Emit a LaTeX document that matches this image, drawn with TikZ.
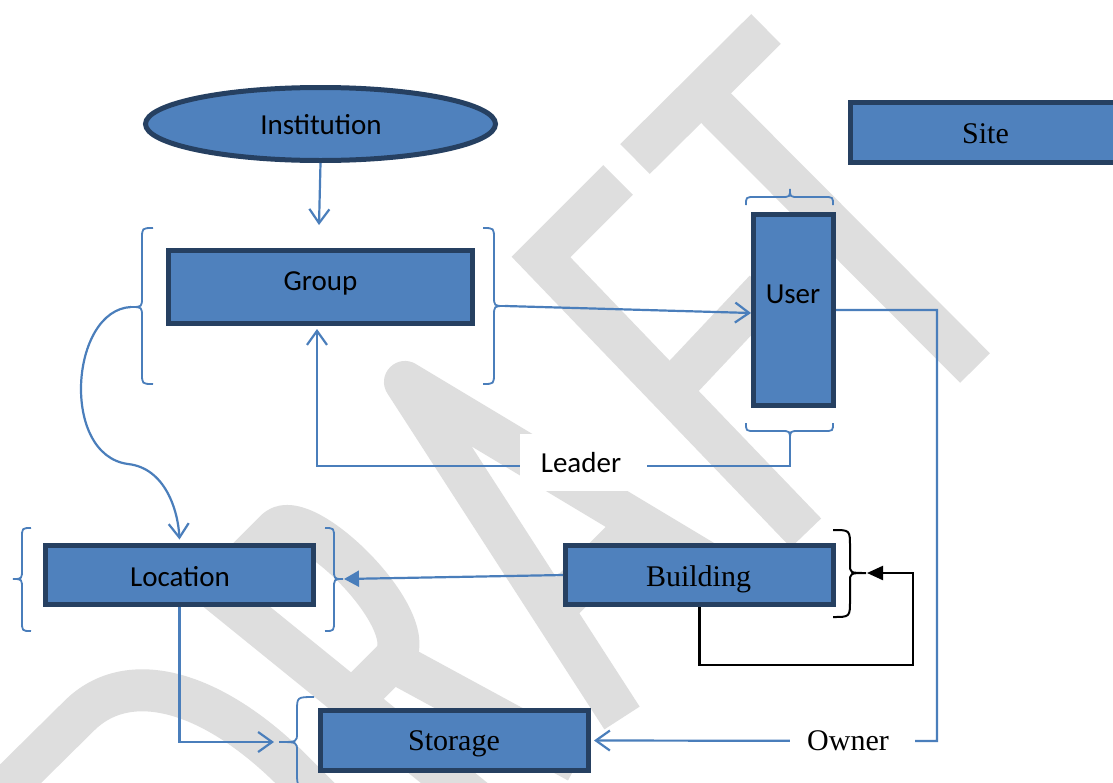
\documentclass[tikz,border=0pt]{standalone}
\usepackage{fontspec}
\setmainfont{Liberation Serif}
\newfontfamily\carl{Carlito}
\usetikzlibrary{arrows.meta,shapes.geometric}
\definecolor{boxfill}{RGB}{79,129,189}
\definecolor{boxline}{RGB}{38,64,97}
\definecolor{conn}{RGB}{74,126,187}
\definecolor{wm}{RGB}{222,222,222}
% vertical brace: style, x end, x spine, x tip, y top, y mid, y bottom, end radius, tip radius
\newcommand{\vbr}[9]{\draw[#1] (#2,#5) .. controls (#3,#5) .. (#3,{#5+#8}) -- (#3,{#6-#9}) .. controls (#3,#6) .. (#4,#6) .. controls (#3,#6) .. (#3,{#6+#9}) -- (#3,{#7-#8}) .. controls (#3,#7) .. (#2,#7);}
% horizontal brace: style, y end, y spine, y tip, x left, x mid, x right, end radius, tip radius
\newcommand{\hbr}[9]{\draw[#1] (#5,#2) .. controls (#5,#3) .. ({#5+#8},#3) -- ({#6-#9},#3) .. controls (#6,#3) .. (#6,#4) .. controls (#6,#3) .. ({#6+#9},#3) -- ({#7-#8},#3) .. controls (#7,#3) .. (#7,#2);}
\begin{document}
\begin{tikzpicture}[x=1pt,y=-1pt,
  box/.style={draw=boxline, fill=boxfill, line width=5pt, inner sep=0pt},
  sans/.style={font=\carl\fontsize{29}{35}\selectfont, anchor=base, inner sep=0pt},
  serif/.style={font=\fontsize{30}{36}\selectfont, anchor=base, inner sep=0pt},
  conn/.style={draw=conn, line width=2.2pt},
  arr/.style={-{Straight Barb[length=14pt,width=20pt]}},
  brc/.style={draw=conn, line width=1.8pt},
  bbrc/.style={draw=black, line width=2pt},
  wmk/.style={draw=wm, line width=42pt},
  lblbox/.style={fill=white, inner sep=0pt}]
\path[use as bounding box] (0,0) rectangle (1113,782);
\fill[white] (0,0) rectangle (1113,782);
% ---- watermark DRAFT ----
% T
\draw[wmk] (766,29) -- (635,159);
\draw[wmk] (702,94) -- (975,368);
% F
\draw[wmk, line join=miter] (618,180) -- (541,257) -- (806,533);
\draw[wmk] (668,393) -- (765,290);
% A
\draw[wmk, line join=round] (622,718) -- (405,382) -- (735,580);
\draw[wmk] (556,607) -- (640,522);
% R
\draw[wmk] (216,590) -- (511,829);
\draw[wmk, line join=round] (216,590) -- (276,530) .. controls (304,502) and (428,626) .. (392,661) -- (350,703);
\draw[wmk] (392,661) -- (578,762);
% D
\draw[wmk, line join=round] (1,793) -- (79,716) .. controls (129,666) and (214,691) .. (295,773) .. controls (335,813) .. (376,854);
% ---- boxes ----
\node[box, ellipse, minimum width=350pt, minimum height=73pt] (inst) at (320.5,124) {};
\node[box, minimum width=304pt, minimum height=73pt] (group) at (320.5,287) {};
\node[box, minimum width=80pt, minimum height=191pt] (user) at (793.5,310) {};
\node[box, minimum width=271pt, minimum height=60pt] (site) at (986,132.5) {};
\node[box, minimum width=268pt, minimum height=59pt] (location) at (179.5,575) {};
\node[box, minimum width=268pt, minimum height=59pt] (building) at (699.5,575) {};
\node[box, minimum width=268pt, minimum height=60pt] (storage) at (454.5,740.5) {};
% ---- box texts ----
\node[sans] (insttxt) at (321,134) {Institution};
\node[sans] (grouptxt) at (320.5,290) {Group};
\node[sans] (usertxt) at (793,303) {User};
\node[serif] (sitetxt) at (985.5,143) {Site};
\node[sans] (loctxt) at (180,586) {Location};
\node[serif] (buildtxt) at (698.5,586) {Building};
\node[serif] (stortxt) at (454,750) {Storage};
% ---- braces ----
\vbr{brc}{153}{142}{131}{228}{307}{384}{11}{10}
\vbr{brc}{483}{494}{505}{228}{306}{384}{11}{10}
\hbr{brc}{205}{197}{189}{746}{790}{833}{9}{9}
\hbr{brc}{423}{431}{440}{746}{790}{833}{9}{9}
\vbr{brc}{31}{22}{13}{528}{579}{631}{10}{10}
\vbr{brc}{325}{334}{343}{528}{579}{631}{10}{10}
\vbr{bbrc}{833}{850}{866}{530}{573}{617}{17}{9}
\vbr{brc}{314}{297}{279}{697}{742}{787}{14}{9}
\coordinate (glb) at (131,307);
\coordinate (grb) at (505,306);
\coordinate (ubb) at (790,440);
\coordinate (lrb) at (344,579);
\coordinate (bbt) at (867,573);
\coordinate (sbt) at (274,742);
\coordinate (gtop) at (319,225);
\coordinate (ownc) at (937,741);
\coordinate (loopc) at (913,665);
% ---- connectors ----
\draw[conn, arr] (inst.south) -- (gtop);
\draw[conn, arr] (grb) -- ([yshift=-3pt]user.west);
\draw[conn, arr] (ubb) -- ++(0,26) -| ([xshift=-3.5pt,yshift=-3pt]group.south);
\draw[conn, arr] (glb) .. controls (70,310) and (60,455) .. (128,464) .. controls (165,468) and (178,510) .. ([yshift=3.5pt]location.north);
\draw[conn, -{Triangle[length=15pt,width=16pt]}] (building.west) -- (lrb);
\draw[conn, arr] (location.south) |- (sbt);
\draw[conn, arr] (user.east) -| (ownc) -- ([xshift=3pt]storage.east);
\draw[black, line width=2.2pt, -{Triangle[length=16pt,width=14pt]}] (building.south) |- (loopc) |- (bbt);
% ---- labels ----
\node[lblbox, minimum width=127pt, minimum height=57pt] (leader) at (583,462) {};
\node[sans] (leadertxt) at (581,472) {Leader};
\node[lblbox, minimum width=125pt, minimum height=46pt] (owner) at (852,741) {};
\node[serif] (ownertxt) at (848,750) {Owner};
\end{tikzpicture}
\end{document}
